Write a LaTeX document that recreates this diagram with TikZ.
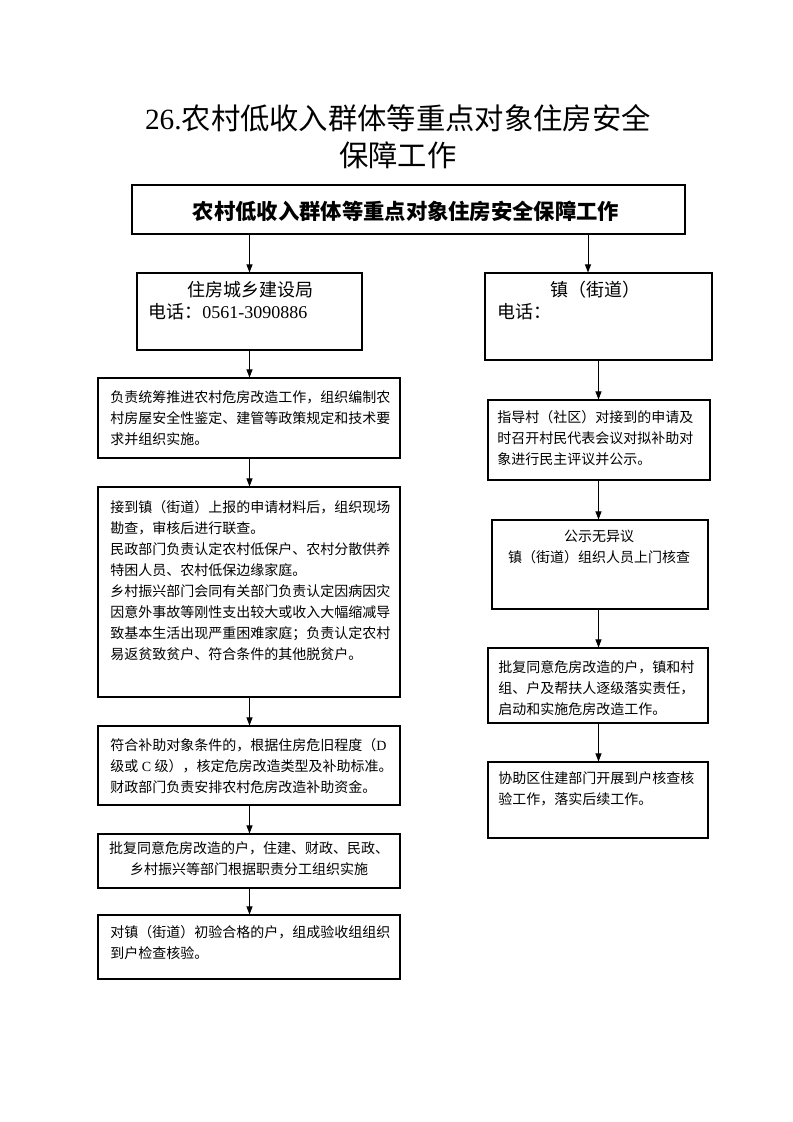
\documentclass[tikz,border=0pt]{standalone}
\usepackage{fontspec}
\setmainfont{Liberation Serif}
\newfontfamily\cjk{Noto Sans CJK SC}
\newfontfamily\lat{Liberation Serif}
\usetikzlibrary{arrows.meta,fit}

\begin{document}
\begin{tikzpicture}[x=0.75pt, y=-0.75pt, >={Triangle[length=6pt,width=4.5pt]},
  box/.style={draw, line width=0.8pt, inner sep=0pt},
  txt/.style={inner sep=0pt, align=left, anchor=north west,
    font=\cjk\fontsize{10.5}{15.8}\selectfont},
  ctxt/.style={txt, align=center, anchor=north},
  link/.style={->, line width=0.7pt}]

  \useasboundingbox (0,0) rectangle (793,1122);

  % title
  \node[align=center, font=\cjk\fontsize{22}{27.8}\selectfont] (title) at (398,136.5)
    {{\lat 26.}农村低收入群体等重点对象住房安全\\保障工作};

  \node[box, fit={(132,185) (685,234)}] (head) {};
  \node[font=\cjk\bfseries\fontsize{16}{20}\selectfont] (headt) at (406,211)
    {农村低收入群体等重点对象住房安全保障工作};

  % left column
  \node[box, fit={(137,273) (362,350)}] (zj0) {};
  \node[font=\cjk\fontsize{13.5}{17}\selectfont] (zj0name) at (250,290) {住房城乡建设局};
  \node[font=\cjk\fontsize{13.5}{17}\selectfont, anchor=west, inner sep=0pt] (zj0tel) at (148,312)
    {电话：{\lat 0561-3090886}};

  \node[box, fit={(98,378) (400,458)}] (zj1) {};
  \node[txt] (zj1t) at (110,390) {负责统筹推进农村危房改造工作，组织编制农\\
    村房屋安全性鉴定、建管等政策规定和技术要\\求并组织实施。};

  \node[box, fit={(98,487) (400,697)}] (zj2) {};
  \node[txt] (zj2t) at (110,500) {接到镇（街道）上报的申请材料后，组织现场\\
    勘查，审核后进行联查。\\
    民政部门负责认定农村低保户、农村分散供养\\
    特困人员、农村低保边缘家庭。\\
    乡村振兴部门会同有关部门负责认定因病因灾\\
    因意外事故等刚性支出较大或收入大幅缩减导\\
    致基本生活出现严重困难家庭；负责认定农村\\
    易返贫致贫户、符合条件的其他脱贫户。};

  \node[box, fit={(98,726) (400,805)}] (zj3) {};
  \node[txt] (zj3t) at (110,738) {符合补助对象条件的，根据住房危旧程度（{\lat D}\\
    级或{\lat\ C }级），核定危房改造类型及补助标准。\\
    财政部门负责安排农村危房改造补助资金。};

  \node[box, fit={(98,834) (400,888)}] (zj4) {};
  \node[ctxt] (zj4t) at (249,841) {批复同意危房改造的户，住建、财政、民政、\\
    乡村振兴等部门根据职责分工组织实施};

  \node[box, fit={(98,915) (400,979)}] (zj5) {};
  \node[txt] (zj5t) at (110,925) {对镇（街道）初验合格的户，组成验收组组织\\
    到户检查核验。};

  % right column
  \node[box, fit={(485,273) (712,360)}] (zh0) {};
  \node[font=\cjk\fontsize{13.5}{17}\selectfont] (zh0name) at (595,290) {镇（街道）};
  \node[font=\cjk\fontsize{13.5}{17}\selectfont, anchor=west, inner sep=0pt] (zh0tel) at (497,312)
    {电话：};

  \node[box, fit={(488,400) (710,480)}] (zh1) {};
  \node[txt] (zh1t) at (497,410) {指导村（社区）对接到的申请及\\
    时召开村民代表会议对拟补助对\\象进行民主评议并公示。};

  \node[box, fit={(492,520) (708,609)}] (zh2) {};
  \node[ctxt] (zh2t) at (599,530) {公示无异议\\镇（街道）组织人员上门核查};

  \node[box, fit={(488,648) (708,723)}] (zh3) {};
  \node[txt] (zh3t) at (498,660) {批复同意危房改造的户，镇和村\\
    组、户及帮扶人逐级落实责任，\\启动和实施危房改造工作。};

  \node[box, fit={(488,762) (708,838)}] (zh4) {};
  \node[txt] (zh4t) at (498,771) {协助区住建部门开展到户核查核\\验工作，落实后续工作。};

  % connectors
  \coordinate (hr) at (588,234);
  \draw[link] (head.south -| zj0.north) -- (zj0.north);
  \draw[link] (hr) -- (hr |- zh0.north);

  \foreach \a/\b in {zj0/zj1, zj1/zj2, zj2/zj3, zj3/zj4, zj4/zj5}
    \draw[link] (\a.south -| zj0.south) -- (\b.north -| zj0.south);
  \foreach \a/\b in {zh0/zh1, zh1/zh2, zh2/zh3, zh3/zh4}
    \draw[link] (\a.south -| zh0.south) -- (\b.north -| zh0.south);

\end{tikzpicture}
\end{document}
